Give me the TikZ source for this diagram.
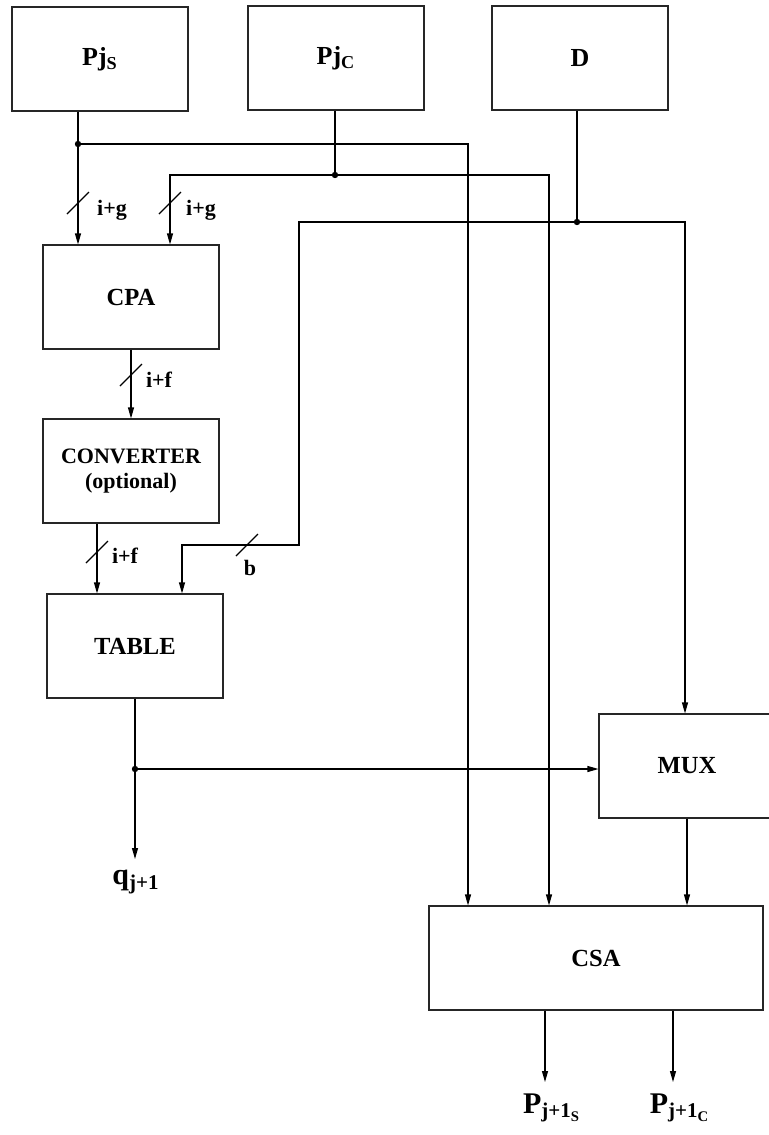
\documentclass[tikz,border=0pt]{standalone}
\usepackage{fontspec}
\setmainfont{Liberation Serif}
\usetikzlibrary{arrows.meta}

\begin{document}
\begin{tikzpicture}[x=0.5pt, y=-0.5pt, >={Triangle[length=5.5pt,width=3pt]}, line width=0.55pt,
		blk/.style={rectangle, draw=black!85, minimum width=88pt, minimum height=52pt, inner sep=0pt, font=\fontsize{12.3}{14}\selectfont\bfseries},
		reg/.style={blk, font=\fontsize{13}{15}\selectfont\bfseries},
		bus/.style={inner sep=0pt, font=\fontsize{11}{13}\selectfont\bfseries},
		outlbl/.style={anchor=north, inner sep=5.5pt, font=\fontsize{15}{17}\selectfont\bfseries}]

		\useasboundingbox (0,0) rectangle (769,1135);

		% Registros de entrada
		\node[reg] (Ps) at (100,59) {Pj\textsubscript{S}};
		\node[reg] (Pc) at (336,58) {Pj\textsubscript{C}};
		\node[reg] (D) at (580,58) {D};

		% Blocos
		\node[blk] (cpa) at (131,297) {CPA};
		\node[blk, align=center, font=\fontsize{11}{12.5}\selectfont\bfseries] (conv) at (131,471) {CONVERTER\\(optional)};
		\node[blk] (tab) at (135,646) {TABLE};
		\node[blk] (mux) at (687,766) {MUX};
		\node[blk, minimum width=167pt] (csa) at (596,958) {CSA};

		% Saidas
		\node[outlbl] (q) at (136,859) {q\textsubscript{j+1}};
		\node[outlbl] (Ps1) at (552,1082) {P\textsubscript{j+1\textsubscript{S}}};
		\node[outlbl] (Pc1) at (680,1082) {P\textsubscript{j+1\textsubscript{C}}};

		% Pontos de ramificacao
		\coordinate (jS) at (78,144);
		\coordinate (cS) at (468,144);
		\coordinate (jC) at (335,175);
		\coordinate (cC1) at (170,175);
		\coordinate (cC2) at (549,175);
		\coordinate (jD) at (577,222);
		\coordinate (cD1) at (299,222);
		\coordinate (cD2) at (685,222);
		\coordinate (cB1) at (299,545);
		\coordinate (cB2) at (182,545);
		\coordinate (jQ) at (135,769);

		% Arestas
		\draw (Ps.south -| jS) -- (jS);
		\draw[->] (jS) -- (cpa.north -| jS);
		\draw[->] (jS) -- (cS) -- (csa.north -| cS);
		\draw (Pc.south -| jC) -- (jC);
		\draw[->] (jC) -- (cC1) -- (cpa.north -| cC1);
		\draw[->] (jC) -- (cC2) -- (csa.north -| cC2);
		\draw (D.south -| jD) -- (jD);
		\draw[->] (jD) -- (cD2) -- (mux.north -| cD2);
		\draw[->] (jD) -- (cD1) -- (cB1) -- (cB2) -- (tab.north -| cB2);
		\draw[->] (cpa.south) -- (cpa.south |- conv.north);
		\draw[->] ([xshift=-17pt]conv.south) -- ([xshift=-17pt]conv.south |- tab.north);
		\draw (tab.south) -- (tab.south |- jQ);
		\draw[->] (jQ) -- (jQ |- q.north);
		\draw[->] (jQ) -- (mux.west |- jQ);
		\draw[->] (mux.south) -- (mux.south |- csa.north);
		\draw[->] ([xshift=-25.5pt]csa.south) -- ([xshift=-25.5pt]csa.south |- Ps1.north);
		\draw[->] ([xshift=38.5pt]csa.south) -- ([xshift=38.5pt]csa.south |- Pc1.north);
		\foreach \p in {jS, jC, jD, jQ} \fill (\p) circle[radius=1.6pt];

		% Largura dos barramentos
		\foreach \s in {(78,203), (170,203), (131,375), (97,552), (247,545)}
			\draw \s ++(-11,11) -- ++(22,-22);
		\node[bus] (w1) at (112,210) {i+g};
		\node[bus] (w2) at (201,210) {i+g};
		\node[bus] (w3) at (159,380) {i+f};
		\node[bus] (w4) at (125,556) {i+f};
		\node[bus] (w5) at (250,568) {b};

	\end{tikzpicture}
\end{document}
